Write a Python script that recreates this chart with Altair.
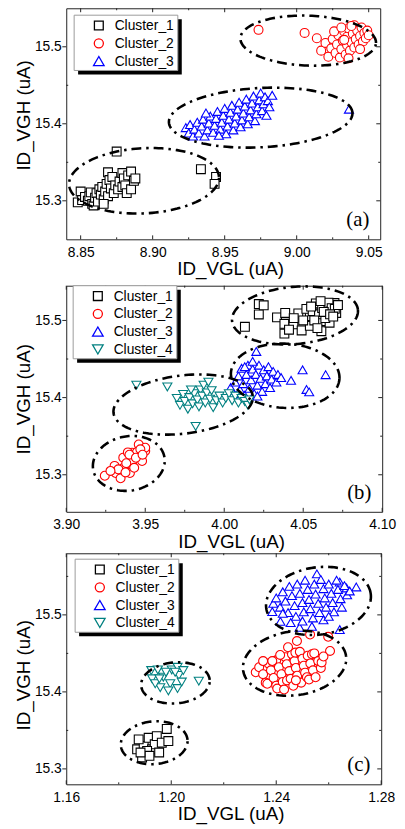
import math
import numpy as np
import pandas as pd
import altair as alt

FONT = "Liberation Sans"
SERIF = "Liberation Serif"

CLUSTERS = ["Cluster_1", "Cluster_2", "Cluster_3", "Cluster_4"]
COLORS = ["#000000", "#ff0000", "#0000ff", "#008080"]
SHAPES = ["square", "circle", "triangle-up", "triangle-down"]
SIZES = [80, 85, 115, 115]

X_TITLE = "ID_VGL (uA)"
Y_TITLE = "ID_VGH (uA)"

# ---------------- panel (a) ----------------
A_X_DOMAIN = [8.84, 9.058]
A_Y_DOMAIN = [15.25, 15.55]
A_X_TICKS = [8.85, 8.90, 8.95, 9.00, 9.05]
A_X_MINOR = [8.875, 8.925, 8.975, 9.025]
A_Y_TICKS = [15.3, 15.4, 15.5]
A_Y_MINOR = [15.35, 15.45]

A1 = [(8.848, 15.298), (8.850, 15.312), (8.851, 15.301), (8.853, 15.305), (8.855, 15.300),
      (8.856, 15.306), (8.857, 15.311), (8.858, 15.296), (8.859, 15.294), (8.860, 15.304),
      (8.861, 15.310), (8.862, 15.299), (8.863, 15.315), (8.864, 15.308), (8.865, 15.318),
      (8.866, 15.302), (8.867, 15.312), (8.868, 15.322), (8.869, 15.337), (8.869, 15.306),
      (8.870, 15.327), (8.871, 15.316), (8.872, 15.331), (8.873, 15.310), (8.874, 15.320),
      (8.876, 15.315), (8.877, 15.325), (8.879, 15.336), (8.879, 15.318), (8.880, 15.329),
      (8.881, 15.320), (8.882, 15.310), (8.883, 15.333), (8.885, 15.315), (8.885, 15.338),
      (8.887, 15.326), (8.888, 15.329), (8.866, 15.296), (8.875, 15.364), (8.9335, 15.341),
      (8.944, 15.331), (8.943, 15.322)]
A2 = [(8.9735, 15.522), (9.0055, 15.518), (9.014, 15.511), (9.017, 15.495), (9.020, 15.505),
      (9.022, 15.487), (9.024, 15.498), (9.025, 15.510), (9.027, 15.492), (9.028, 15.503),
      (9.029, 15.515), (9.030, 15.486), (9.031, 15.497), (9.032, 15.508), (9.033, 15.520),
      (9.034, 15.490), (9.035, 15.502), (9.035, 15.513), (9.036, 15.524), (9.037, 15.495),
      (9.038, 15.506), (9.039, 15.517), (9.040, 15.499), (9.040, 15.528), (9.041, 15.510),
      (9.042, 15.521), (9.043, 15.503), (9.044, 15.514), (9.045, 15.525), (9.046, 15.507),
      (9.047, 15.518), (9.048, 15.511), (9.049, 15.521), (9.050, 15.515), (9.036, 15.485),
      (9.026, 15.520), (9.031, 15.525), (9.044, 15.497), (9.038, 15.527), (9.033, 15.509)]
A3 = [(8.923, 15.395), (8.925, 15.388), (8.926, 15.399), (8.928, 15.384), (8.929, 15.393),
      (8.931, 15.402), (8.932, 15.388), (8.934, 15.397), (8.935, 15.406), (8.936, 15.384),
      (8.938, 15.392), (8.939, 15.401), (8.940, 15.410), (8.942, 15.389), (8.943, 15.398),
      (8.944, 15.407), (8.945, 15.416), (8.947, 15.393), (8.948, 15.402), (8.949, 15.411),
      (8.950, 15.420), (8.951, 15.387), (8.952, 15.397), (8.953, 15.406), (8.954, 15.415),
      (8.955, 15.424), (8.956, 15.392), (8.957, 15.401), (8.958, 15.410), (8.959, 15.419),
      (8.960, 15.428), (8.961, 15.396), (8.962, 15.405), (8.963, 15.414), (8.964, 15.423),
      (8.965, 15.432), (8.966, 15.400), (8.967, 15.409), (8.968, 15.418), (8.969, 15.427),
      (8.970, 15.436), (8.971, 15.404), (8.972, 15.413), (8.973, 15.422), (8.974, 15.431),
      (8.975, 15.440), (8.976, 15.417), (8.977, 15.426), (8.978, 15.435), (8.979, 15.411),
      (8.980, 15.430), (8.981, 15.422), (8.983, 15.437), (8.946, 15.385), (8.937, 15.414),
      (9.0363, 15.419)]
# ellipses: centre x, centre y, half width (x units), half height (y units), tilt (deg)
A_ELL = [(8.894, 15.326, 0.0521, 0.0423, 3),
         (9.008, 15.508, 0.0471, 0.0324, -2),
         (8.975, 15.408, 0.0638, 0.0385, 3)]

# ---------------- panel (b) ----------------
B_X_DOMAIN = [3.90, 4.10]
B_Y_DOMAIN = [15.252, 15.545]
B_X_TICKS = [3.90, 3.95, 4.00, 4.05, 4.10]
B_X_MINOR = [3.925, 3.975, 4.025, 4.075]
B_Y_TICKS = [15.3, 15.4, 15.5]
B_Y_MINOR = [15.35, 15.45]

B1 = [(4.0131, 15.4918), (4.0219, 15.5212), (4.0219, 15.5077), (4.025, 15.5196), (4.0334, 15.504),
      (4.0386, 15.5097), (4.0381, 15.4957), (4.0381, 15.483), (4.0438, 15.495), (4.0469, 15.509),
      (4.049, 15.487), (4.0542, 15.5055), (4.0542, 15.493), (4.0615, 15.486), (4.0615, 15.499),
      (4.0604, 15.5205), (4.0656, 15.514), (4.0698, 15.5225), (4.0709, 15.5097), (4.0667, 15.497),
      (4.052, 15.515), (4.056, 15.512), (4.058, 15.522), (4.060, 15.508), (4.062, 15.516),
      (4.064, 15.503), (4.066, 15.523), (4.068, 15.516), (4.070, 15.515), (4.072, 15.520),
      (4.057, 15.500), (4.059, 15.490), (4.063, 15.511), (4.050, 15.500), (4.044, 15.503),
      (4.041, 15.488), (4.055, 15.518), (4.061, 15.525), (4.067, 15.508), (4.069, 15.505)]
B2 = [(3.9244, 15.2987), (3.9313, 15.3022), (3.9344, 15.2954), (3.9403, 15.3022), (3.9306, 15.3115),
      (3.9365, 15.3094), (3.9417, 15.3166), (3.9361, 15.3222), (3.9417, 15.3286), (3.9448, 15.3295),
      (3.948, 15.3178), (3.950, 15.3307), (3.9459, 15.3393), (3.950, 15.335), (3.939, 15.329),
      (3.933, 15.307), (3.938, 15.315), (3.943, 15.309), (3.940, 15.326), (3.9469, 15.333),
      (3.928, 15.305), (3.9375, 15.303), (3.9441, 15.322), (3.9483, 15.326)]
B3 = [(4.0203, 15.4598), (4.0423, 15.4224), (4.0496, 15.436), (4.0642, 15.4297), (4.0521, 15.4105),
      (4.0538, 15.4074), (4.004, 15.413), (4.006, 15.405), (4.007, 15.420), (4.009, 15.428),
      (4.010, 15.410), (4.011, 15.438), (4.012, 15.418), (4.013, 15.403), (4.014, 15.430),
      (4.015, 15.442), (4.016, 15.412), (4.017, 15.423), (4.018, 15.437), (4.019, 15.405),
      (4.020, 15.430), (4.021, 15.416), (4.022, 15.442), (4.023, 15.425), (4.024, 15.408),
      (4.025, 15.436), (4.026, 15.418), (4.027, 15.428), (4.028, 15.440), (4.029, 15.413),
      (4.030, 15.424), (4.031, 15.434), (4.033, 15.420), (4.034, 15.430), (4.036, 15.426),
      (4.018, 15.447), (4.013, 15.440), (4.021, 15.402)]
B4 = [(3.9444, 15.416), (3.964, 15.4138), (3.9819, 15.3627), (3.970, 15.399), (3.972, 15.390),
      (3.974, 15.404), (3.975, 15.395), (3.977, 15.385), (3.978, 15.400), (3.980, 15.392),
      (3.981, 15.405), (3.983, 15.397), (3.984, 15.388), (3.985, 15.410), (3.986, 15.402),
      (3.987, 15.416), (3.988, 15.393), (3.989, 15.406), (3.990, 15.420), (3.991, 15.398),
      (3.993, 15.387), (3.995, 15.396), (3.997, 15.402), (3.999, 15.393), (4.001, 15.399),
      (4.003, 15.405), (4.005, 15.396), (4.007, 15.402), (4.009, 15.393), (4.011, 15.399),
      (4.013, 15.395), (4.015, 15.390), (4.016, 15.397), (3.992, 15.409), (3.979, 15.410)]
B_ELL = [(4.0448, 15.5065, 0.0400, 0.0371, 5),
         (4.0386, 15.4283, 0.0344, 0.0416, -3),
         (3.9740, 15.3910, 0.0444, 0.0377, 7),
         (3.9396, 15.3147, 0.0229, 0.0352, 10)]

# ---------------- panel (c) ----------------
C_X_DOMAIN = [1.16, 1.28]
C_Y_DOMAIN = [15.28, 15.58]
C_X_TICKS = [1.16, 1.20, 1.24, 1.28]
C_X_MINOR = [1.18, 1.22, 1.26]
C_Y_TICKS = [15.3, 15.4, 15.5]
C_Y_MINOR = [15.35, 15.45, 15.55]

C1 = [(1.1870, 15.3255), (1.1889, 15.3149), (1.1895, 15.3298), (1.1914, 15.3404), (1.1927, 15.3255),
      (1.1937, 15.3320), (1.1945, 15.3426), (1.1954, 15.3213), (1.1964, 15.3340), (1.1983, 15.3519),
      (1.1989, 15.3362), (1.1876, 15.3383), (1.1908, 15.3234), (1.1917, 15.3170), (1.1883, 15.3213)]
C2 = [(1.2479, 15.466), (1.2529, 15.4745), (1.2598, 15.4715), (1.2605, 15.4532),
      (1.2322, 15.4255), (1.2335, 15.432), (1.2350, 15.423), (1.2360, 15.412), (1.2366, 15.4106),
      (1.2370, 15.437), (1.2380, 15.428), (1.2390, 15.418), (1.2400, 15.408), (1.2400, 15.441),
      (1.2404, 15.4043), (1.2410, 15.432), (1.2420, 15.423), (1.2425, 15.413), (1.2430, 15.403),
      (1.2435, 15.445), (1.2440, 15.436), (1.2441, 15.4149), (1.2450, 15.427), (1.2455, 15.417),
      (1.2460, 15.449), (1.2465, 15.408), (1.2470, 15.440), (1.2473, 15.451), (1.2475, 15.431),
      (1.2480, 15.421), (1.2490, 15.452), (1.2495, 15.412), (1.2500, 15.443), (1.2505, 15.434),
      (1.2510, 15.425), (1.2517, 15.4191), (1.2520, 15.447), (1.2525, 15.416), (1.2530, 15.437),
      (1.2536, 15.4489), (1.2540, 15.428), (1.2545, 15.450), (1.2550, 15.419), (1.2560, 15.440),
      (1.2570, 15.431), (1.2573, 15.4383), (1.2580, 15.446), (1.2445, 15.458), (1.2415, 15.448),
      (1.2385, 15.440), (1.2350, 15.440), (1.2475, 15.415)]
C3 = [(1.2389, 15.5149), (1.2385, 15.5043), (1.2416, 15.4915), (1.2489, 15.4838), (1.2536, 15.4851),
      (1.2642, 15.4809), (1.2555, 15.5532), (1.2705, 15.5362), (1.2668, 15.5349), (1.2642, 15.5426),
      (1.2580, 15.4936), (1.2400, 15.522), (1.2415, 15.510), (1.2425, 15.530), (1.2435, 15.518),
      (1.2445, 15.503), (1.2450, 15.537), (1.2460, 15.525), (1.2470, 15.512), (1.2475, 15.498),
      (1.2480, 15.540), (1.2490, 15.528), (1.2500, 15.516), (1.2505, 15.504), (1.2510, 15.545),
      (1.2520, 15.533), (1.2525, 15.520), (1.2530, 15.508), (1.2540, 15.496), (1.2545, 15.540),
      (1.2550, 15.527), (1.2560, 15.515), (1.2565, 15.503), (1.2570, 15.546), (1.2580, 15.534),
      (1.2585, 15.522), (1.2590, 15.510), (1.2600, 15.540), (1.2610, 15.528), (1.2615, 15.516),
      (1.2620, 15.504), (1.2630, 15.545), (1.2635, 15.533), (1.2645, 15.521), (1.2650, 15.510),
      (1.2660, 15.538), (1.2670, 15.526), (1.2680, 15.531), (1.2455, 15.490), (1.2500, 15.492),
      (1.2600, 15.498), (1.2425, 15.502)]
C4 = [(1.1924, 15.4277), (1.1949, 15.4285), (1.1970, 15.4191), (1.2002, 15.4285), (1.2024, 15.4319),
      (1.2029, 15.4213), (1.1996, 15.4106), (1.2024, 15.4043), (1.1989, 15.4013), (1.1958, 15.4055),
      (1.1927, 15.4170), (1.1939, 15.4106), (1.2040, 15.4128), (1.2015, 15.4255), (1.1980, 15.4255),
      (1.1955, 15.4170), (1.2046, 15.4277), (1.2105, 15.4140)]
C_ELL = [(1.1935, 15.3340, 0.01275, 0.0277, 5),
         (1.2016, 15.4117, 0.0131, 0.0266, 5),
         (1.2470, 15.4372, 0.0198, 0.0415, 8),
         (1.2561, 15.5181, 0.0201, 0.0437, 8)]


def make_panel(tag, groups, xdom, ydom, xt, xm, yt, ym, ells, W, H, leg_xy, xfmt, title_dy=0):
    n = len(groups)
    rows = []
    k = 0
    for ci, pts in enumerate(groups):
        for (x, y) in pts:
            rows.append({"cluster": CLUSTERS[ci], "x": x, "y": y, "i": k})
            k += 1
    df = pd.DataFrame(rows)

    kx = W / (xdom[1] - xdom[0])
    ky = H / (ydom[1] - ydom[0])
    erows = []
    t = np.linspace(0, 2 * math.pi, 145)
    for ei, (cx, cy, rx, ry, ang) in enumerate(ells):
        a = math.radians(ang)
        u = rx * kx * np.cos(t)
        v = ry * ky * np.sin(t)
        pu = u * math.cos(a) - v * math.sin(a)
        pv = u * math.sin(a) + v * math.cos(a)
        for j in range(len(t)):
            erows.append({"e": ei, "j": j, "x": cx + pu[j] / kx, "y": cy + pv[j] / ky})
    edf = pd.DataFrame(erows)

    xscale = alt.Scale(domain=xdom, nice=False, zero=False)
    yscale = alt.Scale(domain=ydom, nice=False, zero=False)
    xaxis = alt.Axis(title=X_TITLE, values=xt, format=xfmt, grid=False, domain=False, ticks=False,
                     tickSize=0, labelPadding=6, labelFlush=False, labelOverlap=False, titlePadding=1,
                     titleX=W / 2 + 7)
    yaxis = alt.Axis(title=Y_TITLE, values=yt, format=".1f", grid=False, domain=False, ticks=False,
                     tickSize=0, labelPadding=5, labelOverlap=False, titlePadding=1,
                     titleY=H / 2 + title_dy)

    def X(f):
        return alt.X(f, type="quantitative", scale=xscale, axis=xaxis)

    def Y(f):
        return alt.Y(f, type="quantitative", scale=yscale, axis=yaxis)

    dom = CLUSTERS[:n]
    points = alt.Chart(df).mark_point(filled=True, fill="white", fillOpacity=1, opacity=1,
                                      strokeWidth=1.1).encode(
        x=X("x"), y=Y("y"),
        stroke=alt.Stroke("cluster:N", scale=alt.Scale(domain=dom, range=COLORS[:n]), legend=None),
        shape=alt.Shape("cluster:N", scale=alt.Scale(domain=dom, range=SHAPES[:n]), legend=None),
        size=alt.Size("cluster:N", scale=alt.Scale(domain=dom, range=SIZES[:n]), legend=None),
        order=alt.Order("i:Q"),
    )

    ellipses = alt.Chart(edf).mark_line(color="black", strokeWidth=2.6,
                                        strokeDash=[10, 5, 2.5, 5]).encode(
        x=X("x"), y=Y("y"), detail="e:N", order="j:Q")

    def tick_df(vals):
        return pd.DataFrame({"v": vals})

    rule = dict(color="#222222", strokeWidth=1)
    layers = []
    for vals, ln in ((xt, 4), (xm, 2)):
        d = tick_df(vals)
        layers.append(alt.Chart(d).mark_rule(**rule).encode(x=X("v"), y=alt.value(H), y2=alt.value(H - ln)))
        layers.append(alt.Chart(d).mark_rule(**rule).encode(x=X("v"), y=alt.value(0), y2=alt.value(ln)))
    d = tick_df(yt)
    layers.append(alt.Chart(d).mark_rule(**rule).encode(y=Y("v"), x=alt.value(-4), x2=alt.value(0)))
    layers.append(alt.Chart(d).mark_rule(**rule).encode(y=Y("v"), x=alt.value(W - 4), x2=alt.value(W)))
    d = tick_df(ym)
    layers.append(alt.Chart(d).mark_rule(**rule).encode(y=Y("v"), x=alt.value(0), x2=alt.value(2)))
    layers.append(alt.Chart(d).mark_rule(**rule).encode(y=Y("v"), x=alt.value(W - 2), x2=alt.value(W)))

    # legend box with drop shadow
    lx, ly = leg_xy
    lw, lh = 105, 18 * n + 2
    one = pd.DataFrame({"t": [tag]})
    leg = []
    leg.append(alt.Chart(one).mark_rect(color="black").encode(
        x=alt.value(lx + 4), x2=alt.value(lx + lw + 4), y=alt.value(ly + 4), y2=alt.value(ly + lh + 4)))
    leg.append(alt.Chart(one).mark_rect(fill="white", stroke="#9a9a9a", strokeWidth=1).encode(
        x=alt.value(lx), x2=alt.value(lx + lw), y=alt.value(ly), y2=alt.value(ly + lh)))
    for i in range(n):
        row = pd.DataFrame({"name": [CLUSTERS[i]]})
        yy = ly + 10.5 + 18 * i
        leg.append(alt.Chart(row).mark_point(shape=SHAPES[i], filled=True, fill="white", stroke=COLORS[i],
                                             strokeWidth=1.3, size=SIZES[i], opacity=1).encode(
            x=alt.value(lx + 25), y=alt.value(yy)))
        leg.append(alt.Chart(row).mark_text(font=FONT, fontSize=14, align="left", baseline="middle",
                                            color="black").encode(
            text="name:N", x=alt.value(lx + 41), y=alt.value(yy + 0.5)))

    label = alt.Chart(one).mark_text(font=SERIF, fontSize=21, align="right", baseline="alphabetic",
                                     color="black").encode(
        text="t:N", x=alt.value(W - 11), y=alt.value(H - 13))

    return alt.layer(points, ellipses, *layers, *leg, label).properties(width=W, height=H)


pa = make_panel("(a)", [A1, A2, A3], A_X_DOMAIN, A_Y_DOMAIN, A_X_TICKS, A_X_MINOR, A_Y_TICKS, A_Y_MINOR,
                A_ELL, 318, 234, (8, 7), ".2f", title_dy=-9)
pb = make_panel("(b)", [B1, B2, B3, B4], B_X_DOMAIN, B_Y_DOMAIN, B_X_TICKS, B_X_MINOR, B_Y_TICKS, B_Y_MINOR,
                B_ELL, 320, 229, (7, 0), ".2f")
pc = make_panel("(c)", [C1, C2, C3, C4], C_X_DOMAIN, C_Y_DOMAIN, C_X_TICKS, C_X_MINOR, C_Y_TICKS, C_Y_MINOR,
                C_ELL, 319, 234, (9, 6), ".2f", title_dy=6)

chart = alt.vconcat(pa, pb, pc, spacing=0).resolve_scale(
    x="independent", y="independent", stroke="independent", shape="independent", size="independent"
).configure_view(
    stroke="#222222", strokeWidth=1
).configure_axis(
    labelFont=FONT, labelFontSize=14, labelColor="black",
    titleFont=FONT, titleFontSize=19, titleFontWeight="normal", titleColor="black"
).properties(
    padding={"left": 6, "top": -6, "right": 0, "bottom": 0}
)

chart.save("out.html", embed_options={"renderer": "svg", "actions": False})
